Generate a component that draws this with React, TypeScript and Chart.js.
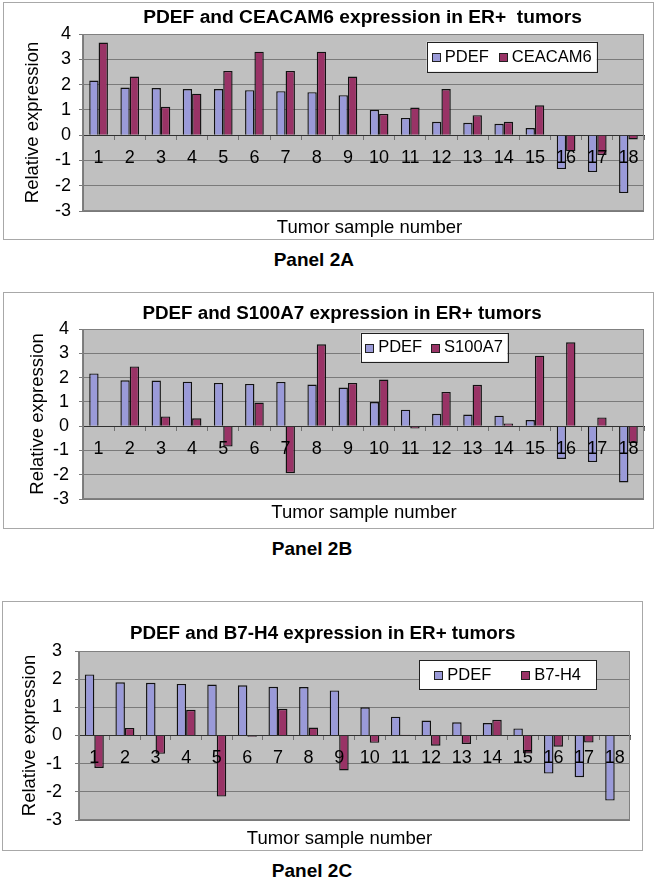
import React, { useEffect, useRef } from "react";
import { Chart, registerables } from "chart.js";

Chart.register(...registerables);

const FONT = "'Liberation Sans', Arial, Helvetica, sans-serif";

// ---- data ----
const samples = ["1", "2", "3", "4", "5", "6", "7", "8", "9", "10", "11", "12", "13", "14", "15", "16", "17", "18"];

const pdefA = [2.16, 1.88, 1.86, 1.82, 1.82, 1.78, 1.74, 1.7, 1.58, 1.0, 0.68, 0.53, 0.49, 0.45, 0.28, -1.34, -1.46, -2.29];
const ceacam6 = [3.66, 2.32, 1.12, 1.64, 2.54, 3.3, 2.54, 3.3, 2.32, 0.84, 1.09, 1.82, 0.79, 0.53, 1.18, -0.64, -0.79, -0.17];

const pdefB = [2.17, 1.89, 1.88, 1.83, 1.78, 1.74, 1.82, 1.71, 1.59, 0.99, 0.68, 0.51, 0.48, 0.43, 0.25, -1.35, -1.48, -2.32];
const s100a7 = [0, 2.46, 0.4, 0.32, -0.84, 0.97, -1.94, 3.37, 1.78, 1.92, -0.1, 1.41, 1.7, 0.11, 2.9, 3.45, 0.36, -0.69];

const pdefC = [2.17, 1.89, 1.87, 1.83, 1.81, 1.78, 1.73, 1.72, 1.6, 1.0, 0.67, 0.53, 0.47, 0.44, 0.25, -1.35, -1.48, -2.31];
const b7h4 = [-1.15, 0.27, -0.65, 0.91, -2.17, -0.04, 0.95, 0.28, -1.24, -0.26, 0.03, -0.36, -0.3, 0.56, -0.64, -0.4, -0.25, 0.02];

const Y_TITLE = "Relative expression";
const X_TITLE = "Tumor sample number";

const PDEF_COLOR = "#9a9ad8";
const SECOND_COLOR = "#993366";

type Box = { x: number; y: number; w: number; h: number };
type PanelCfg = {
  left: number;
  top: number;
  width: number;
  height: number;
  plot: { left: number; top: number; right: number; bottom: number };
  yMin: number;
  yMax: number;
  yTickPad: number;
  yTitlePad: number;
  title: string;
  titleSize: number;
  titleX: number;
  titleY: number;
  xTitleX: number;
  xTitleY: number;
  legend: Box;
  pdef: number[];
  second: number[];
  secondLabel: string;
  catPct: number;
  panelLabel: string;
  labelTop: number;
  labelCx: number;
};

const panels: PanelCfg[] = [
  {
    left: 3, top: 2, width: 651, height: 238,
    plot: { left: 80, top: 32, right: 641, bottom: 209 },
    yMin: -3, yMax: 4, yTickPad: 8, yTitlePad: 18.4,
    title: "PDEF and CEACAM6 expression in ER+  tumors", titleSize: 19.2, titleX: 359.5, titleY: 21.3,
    xTitleX: 366.5, xTitleY: 231.3,
    legend: { x: 423.7, y: 39.7, w: 170, h: 30 },
    pdef: pdefA, second: ceacam6, secondLabel: "CEACAM6", catPct: 0.6,
    panelLabel: "Panel 2A", labelTop: 249.9, labelCx: 313.8,
  },
  {
    left: 3, top: 292, width: 651, height: 237,
    plot: { left: 80, top: 37, right: 641, bottom: 207 },
    yMin: -3, yMax: 4, yTickPad: 10, yTitlePad: 23.4,
    title: "PDEF and S100A7 expression in ER+ tumors", titleSize: 18.8, titleX: 339, titleY: 27.3,
    xTitleX: 361, xTitleY: 226.3,
    legend: { x: 357.7, y: 40.7, w: 146.6, h: 29 },
    pdef: pdefB, second: s100a7, secondLabel: "S100A7", catPct: 0.6,
    panelLabel: "Panel 2B", labelTop: 538.9, labelCx: 312,
  },
  {
    left: 2, top: 601, width: 641, height: 250,
    plot: { left: 77, top: 50, right: 628, bottom: 219 },
    yMin: -3, yMax: 3, yTickPad: 13, yTitlePad: 17.1,
    title: "PDEF and B7-H4 expression in ER+ tumors", titleSize: 18.8, titleX: 320.7, titleY: 38.3,
    xTitleX: 337.5, xTitleY: 243,
    legend: { x: 417.3, y: 59, w: 176.7, h: 29.3 },
    pdef: pdefC, second: b7h4, secondLabel: "B7-H4", catPct: 0.62,
    panelLabel: "Panel 2C", labelTop: 860.6, labelCx: 312,
  },
];

function ChartPanel({ cfg }: { cfg: PanelCfg }) {
  const ref = useRef<HTMLCanvasElement>(null);

  useEffect(() => {
    const canvas = ref.current;
    if (!canvas) return;

    const deco = {
      id: "panelDeco",
      beforeDraw(chart: any) {
        const { ctx, chartArea: a } = chart;
        ctx.save();
        ctx.fillStyle = "#ffffff";
        ctx.fillRect(0, 0, chart.width, chart.height);
        ctx.fillStyle = "#c0c0c0";
        ctx.fillRect(a.left, a.top, a.right - a.left, a.bottom - a.top);
        ctx.restore();
      },
      beforeDatasetsDraw(chart: any) {
        const { ctx, chartArea: a } = chart;
        ctx.save();
        ctx.strokeStyle = "#808080";
        ctx.lineWidth = 1;
        ctx.strokeRect(Math.round(a.left) - 0.5, Math.round(a.top) + 0.5, Math.round(a.right - a.left), Math.round(a.bottom - a.top) - 1);
        ctx.restore();
      },
      afterDraw(chart: any) {
        const { ctx } = chart;
        ctx.save();
        // outer frame
        ctx.strokeStyle = "#a8a8a8";
        ctx.lineWidth = 1;
        ctx.strokeRect(0.5, 0.5, chart.width - 1, chart.height - 1);
        // titles
        ctx.fillStyle = "#000";
        ctx.textAlign = "center";
        ctx.textBaseline = "alphabetic";
        ctx.font = `bold ${cfg.titleSize}px ${FONT}`;
        ctx.fillText(cfg.title, cfg.titleX, cfg.titleY);
        ctx.font = `18.5px ${FONT}`;
        ctx.fillText(X_TITLE, cfg.xTitleX, cfg.xTitleY);
        // legend
        const lg = cfg.legend;
        ctx.fillStyle = "#ffffff";
        ctx.fillRect(lg.x, lg.y, lg.w, lg.h);
        ctx.strokeStyle = "#202020";
        ctx.strokeRect(Math.round(lg.x) + 0.5, Math.round(lg.y) + 0.5, Math.round(lg.w), Math.round(lg.h));
        ctx.font = `16.5px ${FONT}`;
        ctx.textAlign = "left";
        ctx.textBaseline = "middle";
        const items = chart.data.datasets.map((ds: any) => ({ label: ds.label as string, color: ds.backgroundColor as string }));
        const sq = 8;
        const gap = 5;
        const widths = items.map((it: any) => sq + gap + ctx.measureText(it.label).width);
        const sum = widths.reduce((s: number, v: number) => s + v, 0);
        const pad = (lg.w - sum) / (items.length * 2);
        const cy = lg.y + lg.h / 2 + 0.5;
        let x = lg.x + pad;
        items.forEach((it: any, i: number) => {
          const sx = Math.round(x) + 0.5;
          const sy = Math.round(cy - sq / 2) + 0.5;
          ctx.fillStyle = it.color;
          ctx.fillRect(sx, sy, sq, sq);
          ctx.strokeStyle = "#202020";
          ctx.strokeRect(sx, sy, sq, sq);
          ctx.fillStyle = "#000";
          ctx.fillText(it.label, x + sq + gap, cy);
          x += widths[i] + 2 * pad;
        });
        ctx.restore();
      },
    };

    const chart = new Chart(canvas, {
      type: "bar",
      data: {
        labels: samples,
        datasets: [
          { label: "PDEF", data: cfg.pdef, backgroundColor: PDEF_COLOR, borderColor: "#111", borderWidth: 1.4 },
          { label: cfg.secondLabel, data: cfg.second, backgroundColor: SECOND_COLOR, borderColor: "#111", borderWidth: 1.4 },
        ],
      },
      options: {
        responsive: false,
        animation: false,
        devicePixelRatio: 1,
        events: [],
        layout: {
          padding: {
            left: 0,
            top: cfg.plot.top,
            right: cfg.width - cfg.plot.right,
            bottom: cfg.height - cfg.plot.bottom,
          },
        },
        datasets: { bar: { categoryPercentage: cfg.catPct, barPercentage: 1 } },
        plugins: {
          legend: { display: false },
          title: { display: false },
          tooltip: { enabled: false },
        },
        scales: {
          x: {
            position: { y: 0 } as any,
            offset: true,
            grid: { offset: true, drawOnChartArea: false, drawTicks: true, tickLength: 4, color: "#707070" },
            border: { display: true, color: "#303030", width: 1 },
            ticks: { z: 1, color: "#000", font: { family: FONT, size: 18 }, padding: 8, maxRotation: 0, autoSkip: false },
          },
          y: {
            position: "left",
            min: cfg.yMin,
            max: cfg.yMax,
            ticks: { stepSize: 1, autoSkip: false, color: "#000", font: { family: FONT, size: 18 }, padding: cfg.yTickPad },
            grid: { color: "#7a7a7a", lineWidth: 1, drawTicks: true, tickLength: 4 },
            border: { display: true, color: "#7a7a7a" },
            title: {
              display: true,
              text: Y_TITLE,
              color: "#000",
              font: { family: FONT, size: 18.5 },
              padding: { top: cfg.yTitlePad, bottom: 0 },
            },
            afterFit: (scale: any) => {
              scale.width = cfg.plot.left;
            },
          },
        },
      },
      plugins: [deco],
    } as any);

    return () => chart.destroy();
  }, [cfg]);

  return (
    <canvas
      ref={ref}
      width={cfg.width}
      height={cfg.height}
      style={{ position: "absolute", left: cfg.left, top: cfg.top, width: cfg.width, height: cfg.height }}
    />
  );
}

export default function App() {
  return (
    <div
      style={{
        position: "absolute",
        left: 0,
        top: 0,
        width: 656,
        height: 879,
        overflow: "hidden",
        background: "#ffffff",
      }}
    >
      {panels.map((p) => (
        <React.Fragment key={p.panelLabel}>
          <ChartPanel cfg={p} />
          <div
            style={{
              position: "absolute",
              left: p.labelCx - 100,
              top: p.labelTop,
              width: 200,
              textAlign: "center",
              fontFamily: FONT,
              fontWeight: "bold",
              fontSize: 19,
              lineHeight: "19px",
              color: "#000",
              whiteSpace: "nowrap",
            }}
          >
            {p.panelLabel}
          </div>
        </React.Fragment>
      ))}
    </div>
  );
}
